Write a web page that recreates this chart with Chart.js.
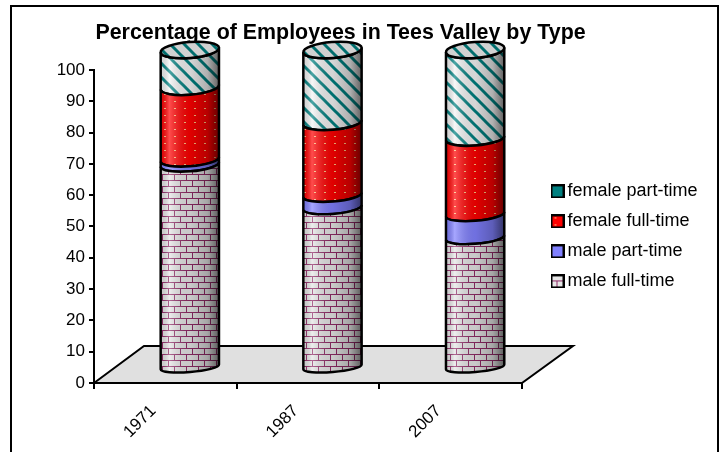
<!DOCTYPE html>
<html>
<head>
<meta charset="utf-8">
<title>Percentage of Employees in Tees Valley by Type</title>
<style>
    html, body { margin: 0; padding: 0; background: #fff; overflow: hidden; }
    #page { position: relative; width: 723px; height: 452px; overflow: hidden; }
    #cadre { position: absolute; left: 10px; top: 5px; width: 705px; height: 500px; border: 2px solid #000; }
    canvas { position: absolute; left: 0; top: 0; }
</style>
<script src="https://cdn.jsdelivr.net/npm/chart.js@4/dist/chart.umd.js"></script>
</head>
<body>
<div id="page">
    <div id="cadre"></div>
    <canvas id="graphique" width="723" height="452"></canvas>
</div>
<script>
// data
const annees = ['1971', '1987', '2007'];
const maleFullTime = [64, 50.5, 41];
const malePartTime = [1.6, 3.9, 7.3];
const femaleFullTime = [22.7, 22.8, 23.9];
const femalePartTime = [11.7, 22.8, 27.8];
const ticksY = [0, 10, 20, 30, 40, 50, 60, 70, 80, 90, 100];

// fake 3D: columns sit further back than the axes
const decalX = 24.5;
const decalY = 15;
const etirement = 1.016;
const inclinaison = -0.08;
let graphiqueCourant = null;

function tuile(l, h, dessin) {
    const c = document.createElement('canvas');
    c.width = l;
    c.height = h;
    dessin(c.getContext('2d'));
    return c.getContext('2d').createPattern(c, 'repeat');
}

const motifBriques = tuile(12, 12, (g) => {
    g.fillStyle = '#e6e6e6';
    g.fillRect(0, 0, 12, 12);
    g.fillStyle = '#8f2a66';
    g.fillRect(0, 0, 12, 1);
    g.fillRect(0, 6, 12, 1);
    g.fillRect(0, 0, 1, 6);
    g.fillRect(6, 6, 1, 6);
});
const motifBleu = '#8080ff';
const motifRouge = tuile(10, 7, (g) => {
    g.fillStyle = '#ff0000';
    g.fillRect(0, 0, 10, 7);
    g.fillStyle = '#ffc080';
    g.fillRect(4, 3, 2, 1);
});
const motifRayures = tuile(14, 14, (g) => {
    g.fillStyle = '#f4f4f4';
    g.fillRect(0, 0, 14, 14);
    g.strokeStyle = '#008080';
    g.lineWidth = 3;
    [-14, 0, 14].forEach((d) => {
        g.beginPath();
        g.moveTo(d - 2, -2);
        g.lineTo(d + 16, 16);
        g.stroke();
    });
});

function carreLegende(motif) {
    const c = document.createElement('canvas');
    c.width = 14;
    c.height = 14;
    const g = c.getContext('2d');
    g.fillStyle = motif === motifRayures ? '#008080' : motif;
    g.fillRect(1, 1, 12, 12);
    g.strokeStyle = '#000';
    g.lineWidth = 2;
    g.strokeRect(1, 1, 12, 12);
    return c;
}

// the real chart scale gives y, this pushes it onto the column
function versColonne(chart, y) {
    const bas = chart.chartArea.bottom;
    return bas - decalY - (bas - y) * etirement;
}
function rayon(chart, y) {
    const a = chart.chartArea;
    return 5 + 3 * (a.bottom - y) / (a.bottom - a.top);
}

// stacked bars drawn as cylinder sections
Chart.BarElement.prototype.draw = function (ctx) {
    const chart = graphiqueCourant;
    const cx = this.x + decalX;
    const rx = this.width / 2;
    const yHaut = versColonne(chart, this.y);
    const yBas = versColonne(chart, this.base);

    ctx.save();
    ctx.beginPath();
    ctx.ellipse(cx, yBas, rx, rayon(chart, this.base), inclinaison, Math.PI, 0, true);
    ctx.ellipse(cx, yHaut, rx, rayon(chart, this.y), inclinaison, 0, Math.PI, false);
    ctx.closePath();
    ctx.fillStyle = this.options.backgroundColor;
    ctx.fill();
    const ombre = ctx.createLinearGradient(cx - rx, 0, cx + rx, 0);
    ombre.addColorStop(0, 'rgba(0,0,0,0.12)');
    ombre.addColorStop(0.15, 'rgba(255,255,255,0.3)');
    ombre.addColorStop(0.5, 'rgba(0,0,0,0.12)');
    ombre.addColorStop(0.8, 'rgba(0,0,0,0.28)');
    ombre.addColorStop(1, 'rgba(0,0,0,0.6)');
    ctx.fillStyle = ombre;
    ctx.fill();
    ctx.strokeStyle = '#000';
    ctx.lineWidth = 2.5;
    ctx.stroke();
    ctx.restore();
};

const decor3D = {
    id: 'decor3D',
    afterLayout(chart) {
        // title and legend do not sit where the layout puts them
        chart.titleBlock.left = -18;
        chart.titleBlock.right = 699;
        chart.legend.left = 544.5;
        chart.legend.right = 720;
        chart.legend.top = 170.4;
    },
    beforeDraw(chart) {
        graphiqueCourant = chart;
    },
    beforeDatasetsDraw(chart) {
        const a = chart.chartArea;
        const ctx = chart.ctx;
        ctx.save();
        ctx.beginPath();
        ctx.moveTo(a.left, a.bottom);
        ctx.lineTo(a.left + 50, a.bottom - 37);
        ctx.lineTo(a.right + 51, a.bottom - 37);
        ctx.lineTo(a.right, a.bottom);
        ctx.closePath();
        ctx.fillStyle = '#e0e0e0';
        ctx.fill();
        ctx.strokeStyle = '#000';
        ctx.lineWidth = 2;
        ctx.stroke();
        ctx.restore();
    },
    afterDatasetsDraw(chart) {
        // lid of each column, on the last dataset
        const ctx = chart.ctx;
        const dernier = chart.data.datasets.length - 1;
        chart.getDatasetMeta(dernier).data.forEach((barre) => {
            ctx.save();
            ctx.beginPath();
            ctx.ellipse(barre.x + decalX, versColonne(chart, barre.y), barre.width / 2, rayon(chart, barre.y), inclinaison, 0, Math.PI * 2);
            ctx.fillStyle = motifRayures;
            ctx.fill();
            ctx.fillStyle = 'rgba(0,0,0,0.14)';
            ctx.fill();
            ctx.strokeStyle = '#000';
            ctx.lineWidth = 2.5;
            ctx.stroke();
            ctx.restore();
        });
    }
};

const series = [
    { label: 'male full-time', data: maleFullTime, backgroundColor: motifBriques },
    { label: 'male part-time', data: malePartTime, backgroundColor: motifBleu },
    { label: 'female full-time', data: femaleFullTime, backgroundColor: motifRouge },
    { label: 'female part-time', data: femalePartTime, backgroundColor: motifRayures }
];

new Chart(document.getElementById('graphique'), {
    type: 'bar',
    plugins: [decor3D],
    data: {
        labels: annees,
        datasets: series.map((s) => ({ ...s, clip: false, categoryPercentage: 1, barPercentage: 0.41 }))
    },
    options: {
        responsive: false,
        animation: false,
        layout: { padding: { right: 38 } },
        plugins: {
            tooltip: { enabled: false },
            title: {
                display: true,
                text: 'Percentage of Employees in Tees Valley by Type',
                color: '#000',
                font: { family: 'Liberation Sans', size: 21.4, weight: 'bold' },
                padding: { top: 20, bottom: 24.3 }
            },
            legend: {
                position: 'right',
                align: 'start',
                reverse: true,
                labels: {
                    color: '#000',
                    font: { family: 'Liberation Sans', size: 18 },
                    usePointStyle: true,
                    boxWidth: 2,
                    boxHeight: 14,
                    padding: 12,
                    generateLabels: (chart) => chart.data.datasets.map((d, i) => ({
                        text: d.label,
                        fontColor: '#000',
                        datasetIndex: i,
                        pointStyle: carreLegende(d.backgroundColor)
                    }))
                }
            }
        },
        scales: {
            x: {
                stacked: true,
                afterFit: (s) => { s.height = 69; },
                border: { color: '#000', width: 2 },
                grid: { drawOnChartArea: false, color: '#000', lineWidth: 2, tickLength: 6 },
                ticks: { color: '#000', maxRotation: 45, minRotation: 45, padding: 12, labelOffset: -12, font: { family: 'Liberation Sans', size: 17 } }
            },
            y: {
                stacked: true,
                min: 0,
                max: 100,
                afterFit: (s) => { s.width = 94; },
                afterBuildTicks: (s) => { s.ticks = ticksY.map((v) => ({ value: v })); },
                border: { color: '#000', width: 2 },
                grid: { drawOnChartArea: false, color: '#000', lineWidth: 2, tickLength: 5 },
                ticks: { color: '#000', padding: 4, font: { family: 'Liberation Sans', size: 17 } }
            }
        }
    }
});
</script>
</body>
</html>
